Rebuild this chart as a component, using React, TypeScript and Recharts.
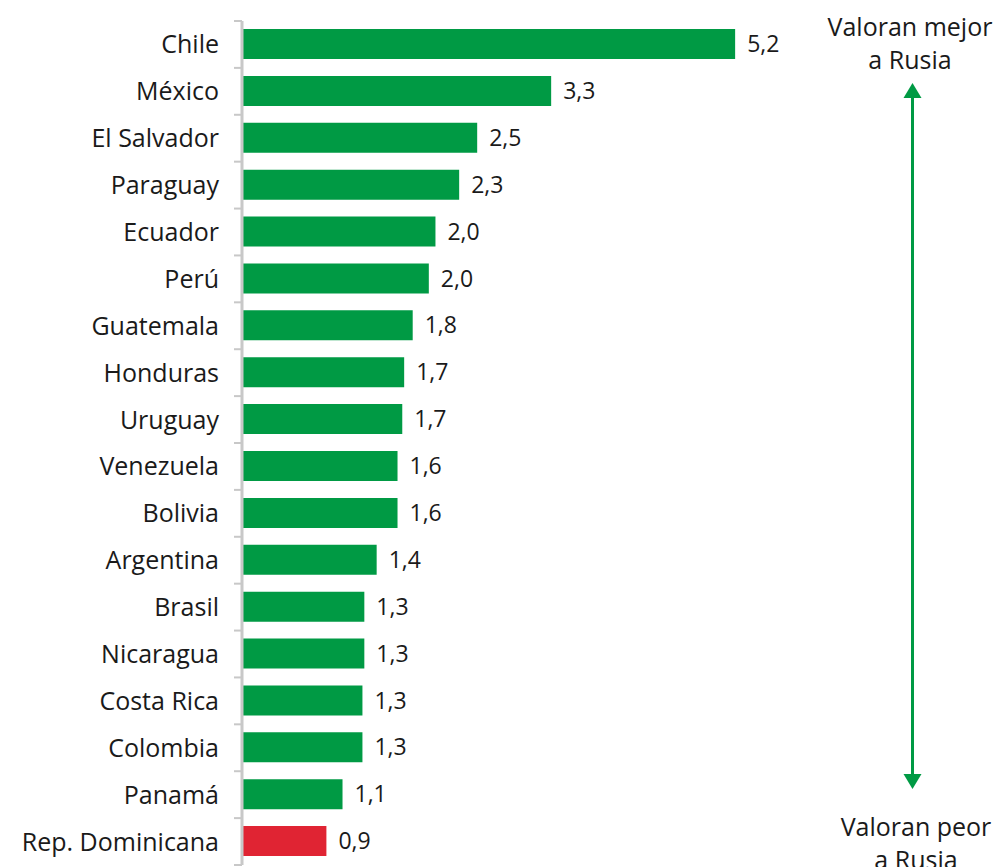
import { BarChart, Bar, XAxis, YAxis, Cell, LabelList } from "recharts";

const countries = [
  "Chile",
  "México",
  "El Salvador",
  "Paraguay",
  "Ecuador",
  "Perú",
  "Guatemala",
  "Honduras",
  "Uruguay",
  "Venezuela",
  "Bolivia",
  "Argentina",
  "Brasil",
  "Nicaragua",
  "Costa Rica",
  "Colombia",
  "Panamá",
  "Rep. Dominicana",
];

const values = [
  5.2, 3.26, 2.48, 2.29, 2.04, 1.97, 1.8, 1.71, 1.69, 1.64, 1.64, 1.42, 1.29,
  1.29, 1.27, 1.27, 1.06, 0.89,
];

const valueLabels = [
  "5,2", "3,3", "2,5", "2,3", "2,0", "2,0", "1,8", "1,7", "1,7", "1,6", "1,6",
  "1,4", "1,3", "1,3", "1,3", "1,3", "1,1", "0,9",
];

const worse = ["Rep. Dominicana"];

const GREEN = "#009a44";
const RED = "#e02433";
const FONT = "'Open Sans', sans-serif";

const data = countries.map((name, i) => ({
  name,
  value: values[i],
  label: valueLabels[i],
}));

const TOP = 21;
const BOTTOM = 2;
const HEIGHT = 867;
const band = (HEIGHT - TOP - BOTTOM) / countries.length;

// category tick: name + a short tick mark on each band boundary
function CountryTick(props: any) {
  const { x, y, payload, index } = props;
  return (
    <g>
      <text
        x={x - 23}
        y={y}
        dy={9}
        textAnchor="end"
        fontSize={25}
        fontFamily={FONT}
        fill="#1a1a1a"
      >
        {payload.value}
      </text>
      <line x1={x - 8} x2={x} y1={y - band / 2} y2={y - band / 2} stroke="#c8c8c8" strokeWidth={2} />
      {index === countries.length - 1 && (
        <line x1={x - 8} x2={x} y1={y + band / 2} y2={y + band / 2} stroke="#c8c8c8" strokeWidth={2} />
      )}
    </g>
  );
}

export default function App() {
  return (
    <div style={{ position: "absolute", left: 0, top: 0, width: 998, height: HEIGHT, background: "#fff", overflow: "hidden" }}>
      <BarChart
        width={998}
        height={HEIGHT}
        data={data}
        layout="vertical"
        margin={{ top: TOP, right: 187, bottom: BOTTOM, left: 0 }}
        barSize={30}
      >
        <XAxis type="number" domain={[0, 6]} hide />
        <YAxis
          type="category"
          dataKey="name"
          width={242}
          axisLine={{ stroke: "#c8c8c8", strokeWidth: 3 }}
          tickLine={false}
          tickSize={0}
          tickMargin={0}
          tick={<CountryTick />}
          interval={0}
        />
        <Bar dataKey="value" isAnimationActive={false}>
          {data.map((d) => (
            <Cell key={d.name} fill={worse.includes(d.name) ? RED : GREEN} />
          ))}
          <LabelList
            dataKey="label"
            position="right"
            offset={12}
            fontSize={23}
            fontFamily={FONT}
            fill="#1a1a1a"
          />
        </Bar>
      </BarChart>
      <svg
        width={998}
        height={HEIGHT}
        style={{ position: "absolute", left: 0, top: 0, pointerEvents: "none" }}
      >
        <g fontFamily={FONT} fontSize={25} fill="#1a1a1a" textAnchor="middle">
          <text x={910} y={36}>Valoran mejor</text>
          <text x={910} y={69}>a Rusia</text>
          <text x={916} y={836}>Valoran peor</text>
          <text x={916} y={869}>a Rusia</text>
        </g>
        <line x1={912.5} x2={912.5} y1={95} y2={776} stroke={GREEN} strokeWidth={3} />
        <polygon points="912.5,83 903.5,98 921.5,98" fill={GREEN} />
        <polygon points="912.5,789 903.5,774 921.5,774" fill={GREEN} />
      </svg>
    </div>
  );
}
